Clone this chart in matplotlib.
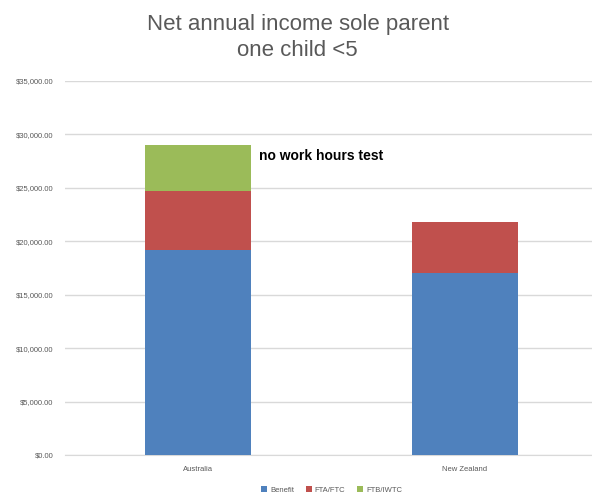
import matplotlib.pyplot as plt
from matplotlib.ticker import FuncFormatter

countries = ["Australia", "New Zealand"]
benefit = [19200, 17000]
fta_ftc = [5500, 4800]
ftb_iwtc = [4300, 0]

plt.rcParams['font.family'] = ['Liberation Sans', 'DejaVu Sans']

fig = plt.figure(figsize=(5.92, 4.99), dpi=100)
ax = fig.add_axes([0.109, 0.088, 0.902, 0.75])

x = range(len(countries))
w = 0.4
ax.bar(x, benefit, w, color="#4f81bd", label="Benefit", zorder=3)
ax.bar(x, fta_ftc, w, bottom=benefit, color="#c0504d", label="FTA/FTC", zorder=3)
bottom2 = [b + f for b, f in zip(benefit, fta_ftc)]
ax.bar(x, ftb_iwtc, w, bottom=bottom2, color="#9bbb59", label="FTB/IWTC", zorder=3)

ax.text(0.23, 28000, "no work hours test", fontsize=10, fontweight="bold", va="center")

ax.set_xlim(-0.5, 1.5)
ax.set_ylim(0, 35000)
ax.set_yticks(range(0, 35001, 5000))
ax.yaxis.set_major_formatter(FuncFormatter(lambda v, p: "${:,.2f}".format(v)))
ax.set_xticks(list(x))
ax.set_xticklabels(countries)
ax.tick_params(axis="both", labelsize=5.5, colors="#595959", length=0, pad=8)
ax.grid(axis="y", color="#d9d9d9", linewidth=1, zorder=0)
for s in ["top", "right", "left"]:
    ax.spines[s].set_visible(False)
ax.spines["bottom"].set_color("#d9d9d9")

fig.suptitle("Net annual income sole parent\none child <5", x=0.503, y=0.972,
             fontsize=16, color="#595959", linespacing=1.3)

ax.legend(loc="upper center", bbox_to_anchor=(0.5, -0.065), ncol=3, frameon=False,
          fontsize=5.5, handlelength=0.8, handleheight=0.8, columnspacing=1.5,
          handletextpad=0.4, labelcolor="#595959")

plt.savefig("out.png", dpi=100)
